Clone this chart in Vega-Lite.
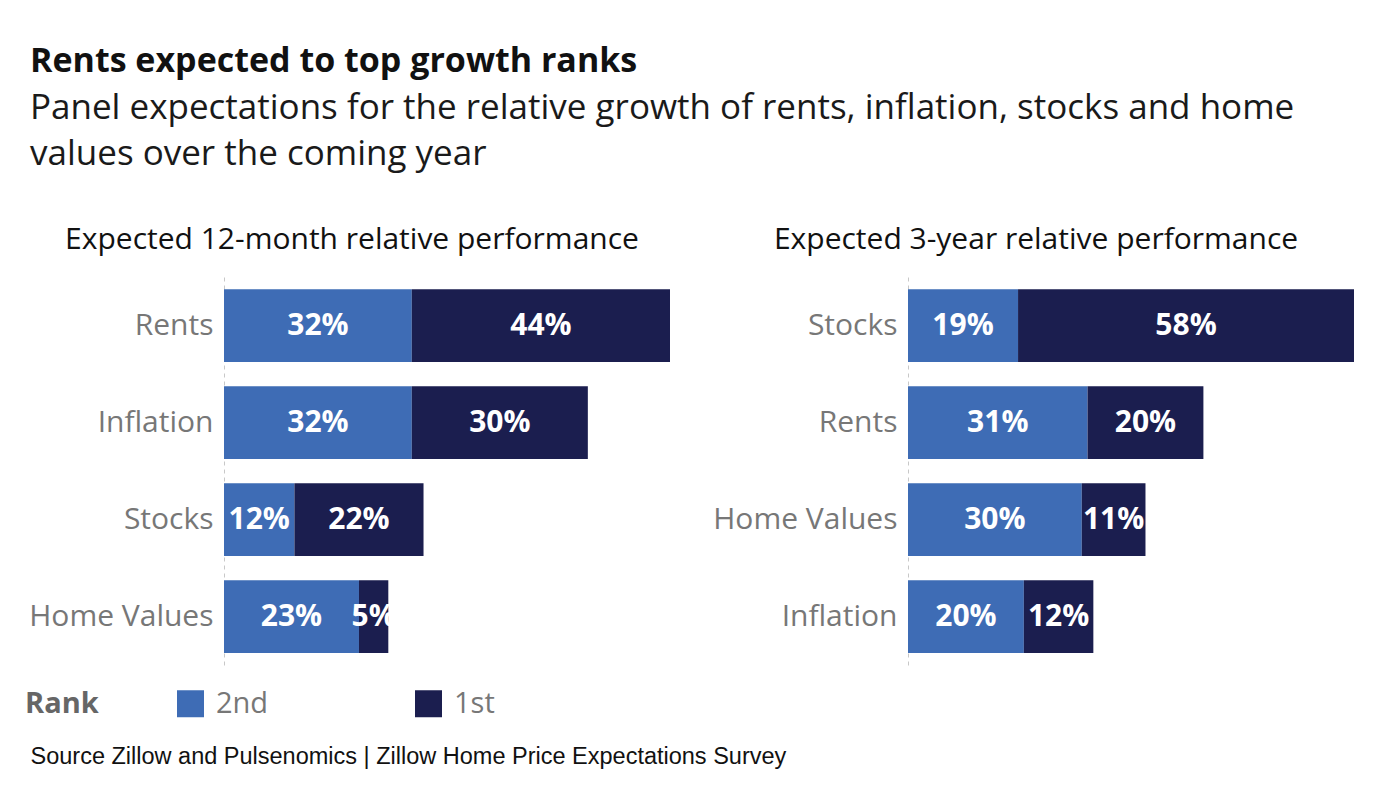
{
  "$schema": "https://vega.github.io/schema/vega-lite/v6.json",
  "background": "white",
  "padding": {"left": 25, "top": 45, "right": 20, "bottom": 20},
  "title": {
    "text": "Rents expected to top growth ranks",
    "subtitle": ["Panel expectations for the relative growth of rents, inflation, stocks and home", "values over the coming year"],
    "anchor": "start",
    "frame": "bounds",
    "dx": 5,
    "font": "Open Sans",
    "fontSize": 34,
    "fontWeight": "bold",
    "color": "#111111",
    "subtitleFont": "Open Sans",
    "subtitleFontSize": 35,
    "subtitleColor": "#1a1a1a",
    "subtitleLineHeight": 46,
    "subtitlePadding": 12,
    "offset": 53
  },
  "datasets": {
    "m12": [
      {"item": "Rents", "rank": "2nd", "order": 1, "value": 32},
      {"item": "Rents", "rank": "1st", "order": 2, "value": 44},
      {"item": "Inflation", "rank": "2nd", "order": 1, "value": 32},
      {"item": "Inflation", "rank": "1st", "order": 2, "value": 30},
      {"item": "Stocks", "rank": "2nd", "order": 1, "value": 12},
      {"item": "Stocks", "rank": "1st", "order": 2, "value": 22},
      {"item": "Home Values", "rank": "2nd", "order": 1, "value": 23},
      {"item": "Home Values", "rank": "1st", "order": 2, "value": 5}
    ],
    "y3": [
      {"item": "Stocks", "rank": "2nd", "order": 1, "value": 19},
      {"item": "Stocks", "rank": "1st", "order": 2, "value": 58},
      {"item": "Rents", "rank": "2nd", "order": 1, "value": 31},
      {"item": "Rents", "rank": "1st", "order": 2, "value": 20},
      {"item": "Home Values", "rank": "2nd", "order": 1, "value": 30},
      {"item": "Home Values", "rank": "1st", "order": 2, "value": 11},
      {"item": "Inflation", "rank": "2nd", "order": 1, "value": 20},
      {"item": "Inflation", "rank": "1st", "order": 2, "value": 12}
    ]
  },
  "spacing": -74,
  "hconcat": [
    {
      "width": 446,
      "height": 388,
      "data": {"name": "m12"},
      "title": {"text": "Expected 12-month relative performance"},
      "transform": [
        {"stack": "value", "groupby": ["item"], "sort": [{"field": "order", "order": "ascending"}], "as": ["x0", "x1"]},
        {"calculate": "(datum.x0 + datum.x1) / 2", "as": "mid"},
        {"calculate": "datum.value + '%'", "as": "label"}
      ],
      "encoding": {
        "y": {
          "field": "item", "type": "nominal",
          "sort": ["Rents", "Inflation", "Stocks", "Home Values"],
          "scale": {"paddingInner": 0.25, "paddingOuter": 0.125},
          "axis": {"title": null}
        }
      },
      "layer": [
        {
          "mark": {"type": "bar"},
          "encoding": {
            "x": {
              "field": "x0", "type": "quantitative",
              "scale": {"domain": [0, 76], "nice": false},
              "axis": {
                "labels": false, "ticks": false, "domain": false, "grid": false,
                "title": "Source Zillow and Pulsenomics | Zillow Home Price Expectations Survey",
                "titleFont": "Liberation Sans", "titleFontSize": 23.5, "titleFontWeight": "normal",
                "titleColor": "#111111", "titleAnchor": "start", "titleAlign": "left",
                "titleX": -194, "titleY": 98, "titleBaseline": "alphabetic"
              }
            },
            "x2": {"field": "x1"},
            "color": {
              "field": "rank", "type": "nominal",
              "scale": {"domain": ["2nd", "1st"], "range": ["#3e6cb5", "#1b1e4f"]},
              "legend": {
                "title": "Rank",
                "orient": "none",
                "direction": "horizontal",
                "legendX": -199,
                "legendY": 412,
                "titleOrient": "left",
                "titleFont": "Open Sans", "titleFontSize": 29, "titleFontWeight": "bold", "titleColor": "#666666",
                "titlePadding": 77,
                "labelFont": "Open Sans", "labelFontSize": 29, "labelColor": "#777777",
                "labelOffset": 11,
                "symbolType": "square", "symbolSize": 729, "symbolStrokeWidth": 0,
                "columnPadding": 145
              }
            }
          }
        },
        {
          "mark": {"type": "text", "color": "white", "font": "Open Sans", "fontSize": 30, "fontWeight": "bold", "align": "center", "baseline": "middle"},
          "encoding": {
            "x": {"field": "mid", "type": "quantitative"},
            "text": {"field": "label", "type": "nominal"}
          }
        }
      ]
    },
    {
      "width": 446,
      "height": 388,
      "data": {"name": "y3"},
      "title": {"text": "Expected 3-year relative performance"},
      "transform": [
        {"stack": "value", "groupby": ["item"], "sort": [{"field": "order", "order": "ascending"}], "as": ["x0", "x1"]},
        {"calculate": "(datum.x0 + datum.x1) / 2", "as": "mid"},
        {"calculate": "datum.value + '%'", "as": "label"}
      ],
      "encoding": {
        "y": {
          "field": "item", "type": "nominal",
          "sort": ["Stocks", "Rents", "Home Values", "Inflation"],
          "scale": {"paddingInner": 0.25, "paddingOuter": 0.125},
          "axis": {"title": null}
        }
      },
      "layer": [
        {
          "mark": {"type": "bar"},
          "encoding": {
            "x": {"field": "x0", "type": "quantitative", "scale": {"domain": [0, 77], "nice": false}, "axis": null},
            "x2": {"field": "x1"},
            "color": {"field": "rank", "type": "nominal", "scale": {"domain": ["2nd", "1st"], "range": ["#3e6cb5", "#1b1e4f"]}}
          }
        },
        {
          "mark": {"type": "text", "color": "white", "font": "Open Sans", "fontSize": 30, "fontWeight": "bold", "align": "center", "baseline": "middle"},
          "encoding": {
            "x": {"field": "mid", "type": "quantitative", "axis": null},
            "text": {"field": "label", "type": "nominal"}
          }
        }
      ]
    }
  ],
  "resolve": {"scale": {"x": "independent", "y": "independent"}},
  "config": {
    "view": {"stroke": null},
    "title": {"font": "Open Sans", "fontSize": 30, "fontWeight": "normal", "color": "#111111", "anchor": "middle", "frame": "group", "dx": -95, "offset": 22},
    "axisY": {
      "domain": true, "domainDash": [4, 4], "domainColor": "#c8c8c8", "domainWidth": 1,
      "ticks": false, "grid": false,
      "labelFont": "Open Sans", "labelFontSize": 30, "labelColor": "#777777", "labelPadding": 11, "labelLimit": 300
    }
  }
}
